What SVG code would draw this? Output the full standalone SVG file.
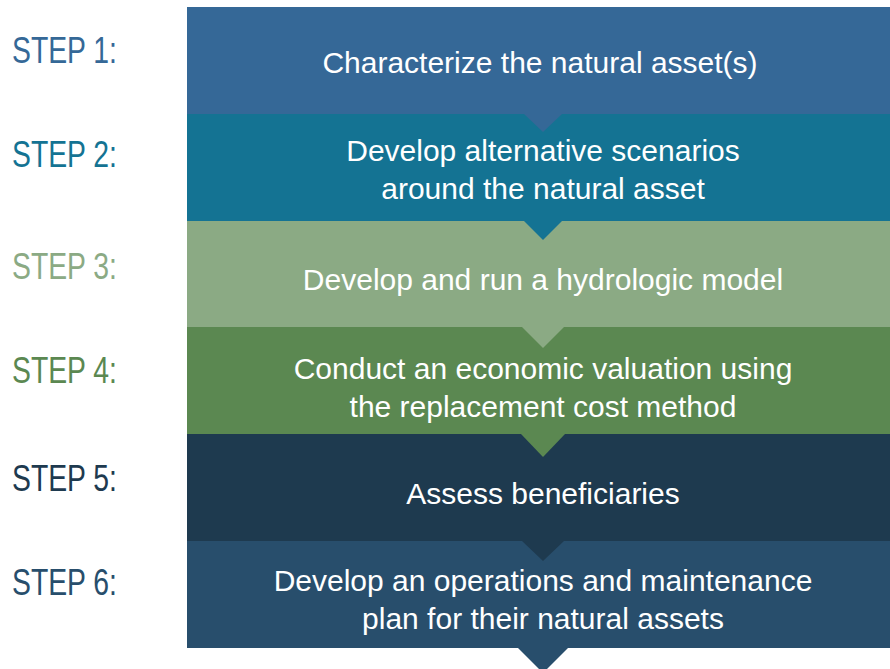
<svg xmlns="http://www.w3.org/2000/svg" width="890" height="669" viewBox="0 0 890 669">
<style>
.lbl{font-family:"Liberation Sans",Arial,sans-serif;font-size:36px;}
.txt{font-family:"Liberation Sans",Arial,sans-serif;font-size:30px;fill:#ffffff;text-anchor:middle;}
</style>
<rect width="890" height="669" fill="#ffffff"/>
<g id="step1">
<rect x="187" y="7" width="703" height="107" fill="#356897"/>
<text class="lbl" x="12" y="63" textLength="105" lengthAdjust="spacingAndGlyphs" fill="#356897">STEP 1:</text>
<text class="txt" x="540" y="73">Characterize the natural asset(s)</text>
</g>
<g id="step2">
<rect x="187" y="114" width="703" height="107" fill="#147393"/>
<text class="lbl" x="12" y="167" textLength="105" lengthAdjust="spacingAndGlyphs" fill="#147393">STEP 2:</text>
<text class="txt" x="543" y="161">Develop alternative scenarios</text>
<text class="txt" x="543" y="199">around the natural asset</text>
</g>
<g id="step3">
<rect x="187" y="221" width="703" height="106" fill="#8BAA84"/>
<text class="lbl" x="12" y="279" textLength="105" lengthAdjust="spacingAndGlyphs" fill="#8BAA84">STEP 3:</text>
<text class="txt" x="543" y="290">Develop and run a hydrologic model</text>
</g>
<g id="step4">
<rect x="187" y="327" width="703" height="107" fill="#5B8851"/>
<text class="lbl" x="12" y="383" textLength="105" lengthAdjust="spacingAndGlyphs" fill="#5B8851">STEP 4:</text>
<text class="txt" x="543" y="379">Conduct an economic valuation using</text>
<text class="txt" x="543" y="417">the replacement cost method</text>
</g>
<g id="step5">
<rect x="187" y="434" width="703" height="107" fill="#1E3A4F"/>
<text class="lbl" x="12" y="491" textLength="105" lengthAdjust="spacingAndGlyphs" fill="#1E3A4F">STEP 5:</text>
<text class="txt" x="543" y="504">Assess beneficiaries</text>
</g>
<g id="step6">
<rect x="187" y="541" width="703" height="107" fill="#284E6C"/>
<text class="lbl" x="12" y="595" textLength="105" lengthAdjust="spacingAndGlyphs" fill="#284E6C">STEP 6:</text>
<text class="txt" x="543" y="591">Develop an operations and maintenance</text>
<text class="txt" x="543" y="629">plan for their natural assets</text>
</g>
<g id="connectors">
<polygon points="524,114 562,114 543,132" fill="#356897"/>
<polygon points="524,221 562,221 543,240" fill="#147393"/>
<polygon points="522,327 564,327 543,348" fill="#8BAA84"/>
<polygon points="521,434 565,434 543,457" fill="#5B8851"/>
<polygon points="522,541 564,541 543,561" fill="#1E3A4F"/>
<polygon points="518,648 568,648 543,673" fill="#284E6C"/>
</g>
</svg>
